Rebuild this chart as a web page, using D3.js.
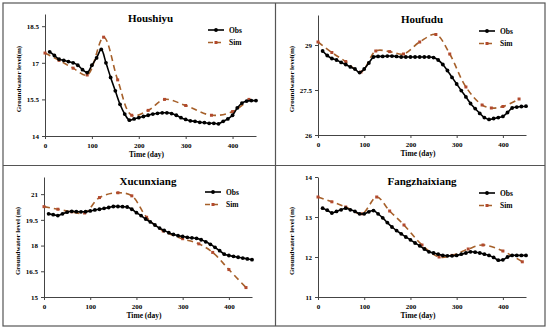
<!DOCTYPE html>
<html>
<head>
<meta charset="utf-8">
<script src="https://cdn.jsdelivr.net/npm/d3@7"></script>
<style>
  body { margin: 0; background: #fff; }
  svg { display: block; font-family: "Liberation Serif", "Times New Roman", serif; font-weight: bold; }
</style>
</head>
<body>
<div id="chart"></div>
<script>
//---------------------------------- Data --------------------
var obsDays = [10, 20, 30, 40, 50, 60, 70, 80, 90, 100, 110, 120, 130, 140, 150, 160, 170, 180, 190, 200,
               210, 220, 230, 240, 250, 260, 270, 280, 290, 300, 310, 320, 330, 340, 350, 360, 370, 380, 390, 400,
               410, 420, 430, 440, 450];
var xTicks = [0, 100, 200, 300, 400];

var houshiyuObs = [17.45, 17.3, 17.15, 17.1, 17.05, 17.0, 16.9, 16.72, 16.6, 16.9, 17.2, 17.55, 17.0, 16.4, 15.85, 15.3, 14.9, 14.65, 14.7, 14.75,
                   14.8, 14.85, 14.9, 14.93, 14.95, 14.95, 14.92, 14.85, 14.75, 14.68, 14.62, 14.6, 14.56, 14.55, 14.52, 14.52, 14.5, 14.6, 14.7, 14.85,
                   15.15, 15.35, 15.43, 15.45, 15.45];
var houshiyuSimDays = [0, 30, 60, 90, 125, 155, 185, 220, 255, 300, 355, 400, 435];
var houshiyuSim = [17.4, 17.1, 16.78, 16.5, 18.05, 16.3, 14.85, 15.05, 15.5, 15.25, 14.85, 15.0, 15.5];
var houshiyuTicks = [14, 15.5, 17, 18.5];

var houfuduObs = [28.8, 28.65, 28.55, 28.5, 28.42, 28.35, 28.27, 28.2, 28.08, 28.2, 28.4, 28.6, 28.62, 28.62, 28.63, 28.63, 28.62, 28.6, 28.6, 28.6,
                  28.6, 28.6, 28.6, 28.6, 28.58, 28.5, 28.35, 28.15, 27.92, 27.7, 27.48, 27.27, 27.05, 26.88, 26.72, 26.58, 26.52, 26.55, 26.58, 26.62,
                  26.75, 26.9, 26.93, 26.95, 26.96];
var houfuduSimDays = [0, 30, 60, 93, 125, 155, 185, 220, 255, 285, 320, 355, 375, 400, 435];
var houfuduSim = [29.1, 28.75, 28.45, 28.1, 28.8, 28.78, 28.7, 29.1, 29.35, 28.7, 27.6, 27.0, 26.9, 26.95, 27.2];
var houfuduTicks = [26, 27.5, 29];

var xucunObs = [19.85, 19.8, 19.75, 19.85, 19.95, 20.0, 19.98, 19.97, 19.98, 20.02, 20.08, 20.12, 20.17, 20.22, 20.28, 20.28, 20.27, 20.25, 20.12, 19.92,
                19.75, 19.55, 19.38, 19.2, 19.02, 18.88, 18.75, 18.65, 18.58, 18.53, 18.48, 18.45, 18.42, 18.34, 18.22, 18.07, 17.9, 17.7, 17.5, 17.42,
                17.37, 17.32, 17.27, 17.22, 17.18];
var xucunSimDays = [0, 30, 60, 88, 120, 160, 190, 222, 258, 300, 335, 365, 400, 437];
var xucunSim = [20.27, 20.12, 19.97, 19.9, 20.8, 21.08, 20.9, 19.65, 18.85, 18.4, 18.1, 17.6, 16.6, 15.55];
var xucunTicks = [15, 16.5, 18, 19.5, 21];

var fangObs = [13.22, 13.17, 13.1, 13.14, 13.18, 13.22, 13.18, 13.14, 13.08, 13.08, 13.13, 13.16, 13.08, 12.98, 12.86, 12.75, 12.66, 12.58, 12.5, 12.43,
               12.35, 12.28, 12.2, 12.13, 12.1, 12.07, 12.04, 12.03, 12.03, 12.04, 12.07, 12.1, 12.13, 12.12, 12.1, 12.07, 12.04, 11.99, 11.92, 11.93,
               12.0, 12.04, 12.04, 12.04, 12.04];
var fangSimDays = [0, 30, 60, 95, 127, 155, 186, 225, 262, 290, 325, 357, 400, 442];
var fangSim = [13.5, 13.38, 13.25, 13.08, 13.5, 13.15, 12.8, 12.3, 12.0, 12.04, 12.2, 12.3, 12.15, 11.88];
var fangTicks = [11, 12, 13, 14];

//---------------------------------- Layout --------------------
var width = 550, height = 333;
var obsColor = "#000", simColor = "#a6602a", simMarker = "#b24a2e";

var panels = [
  {title: "Houshiyu", obs: houshiyuObs, simDays: houshiyuSimDays, sim: houshiyuSim, ticks: houshiyuTicks, ymax: 19,
   ylab: "Groundwater level(m)", left: 45, right: 256, top: 14, bottom: 136, titleY: 22, legX: 208, legY: 30},
  {title: "Houfudu", obs: houfuduObs, simDays: houfuduSimDays, sim: houfuduSim, ticks: houfuduTicks, ymax: 30,
   ylab: "Groundwater level(m)", left: 318, right: 526, top: 15, bottom: 135, titleY: 23, legX: 479, legY: 31},
  {title: "Xucunxiang", obs: xucunObs, simDays: xucunSimDays, sim: xucunSim, ticks: xucunTicks, ymax: 22,
   ylab: "Groundwater level (m)", left: 44, right: 252, top: 177, bottom: 297, titleY: 185, legX: 205, legY: 192},
  {title: "Fangzhaixiang", obs: fangObs, simDays: fangSimDays, sim: fangSim, ticks: fangTicks, ymax: 14,
   ylab: "Groundwater level (m)", left: 318, right: 526, top: 177, bottom: 297, titleY: 185, legX: 479, legY: 193}
];

var svg = d3.select("#chart").append("svg")
    .attr("width", width)
    .attr("height", height);

// ---------- Panel borders ----------
svg.append("rect")
    .attr("x", 3).attr("y", 3)
    .attr("width", 542).attr("height", 323)
    .style("fill", "none").style("stroke", "#555").style("stroke-width", 1.2);
svg.append("line").attr("x1", 275.5).attr("x2", 275.5).attr("y1", 3).attr("y2", 326)
    .style("stroke", "#555").style("stroke-width", 1.2);
svg.append("line").attr("x1", 3).attr("x2", 545).attr("y1", 165.5).attr("y2", 165.5)
    .style("stroke", "#555").style("stroke-width", 1.2);

panels.forEach(function(p) {

  var x_scale = d3.scaleLinear().domain([0, 450]).range([p.left, p.right]);
  var y_scale = d3.scaleLinear().domain([p.ticks[0], p.ymax]).range([p.bottom, p.top]);

  var g = svg.append("g");

  // axes
  var xAxis = d3.axisBottom(x_scale).tickValues(xTicks).tickSize(3).tickSizeOuter(0);
  var yAxis = d3.axisLeft(y_scale).tickValues(p.ticks).tickSize(3).tickSizeOuter(0)
      .tickFormat(function(d) { return d; });

  g.append("g").attr("transform", "translate(0," + p.bottom + ")").call(xAxis)
    .call(function(a) {
      a.select(".domain").style("stroke", "#444");
      a.selectAll(".tick line").style("stroke", "#444");
      a.selectAll("text").style("font-size", "7px").style("font-family", "Liberation Serif").style("font-weight", "bold").attr("dy", "0.9em");
    });
  g.append("g").attr("transform", "translate(" + p.left + ",0)").call(yAxis)
    .call(function(a) {
      a.select(".domain").style("stroke", "#444");
      a.selectAll(".tick line").style("stroke", "#444");
      a.selectAll("text").style("font-size", "7px").style("font-family", "Liberation Serif").style("font-weight", "bold");
    });

  // titles
  g.append("text").attr("x", (p.left + p.right) / 2).attr("y", p.titleY)
    .attr("text-anchor", "middle").style("font-size", "11px").text(p.title);
  g.append("text").attr("x", (p.left + p.right) / 2 - 4).attr("y", p.bottom + 21)
    .attr("text-anchor", "middle").style("font-size", "7.5px").text("Time (day)");
  g.append("text")
    .attr("transform", "translate(" + (p.left - 24) + "," + ((p.top + p.bottom) / 2 + 4) + ") rotate(-90)")
    .attr("text-anchor", "middle").style("font-size", "7px").text(p.ylab);

  // sim (dashed)
  var simData = p.simDays.map(function(d, i) { return {day: d, v: p.sim[i]}; });
  var simLine = d3.line().curve(d3.curveCatmullRom.alpha(0.5))
      .x(function(d) { return x_scale(d.day); })
      .y(function(d) { return y_scale(d.v); });
  g.append("path").datum(simData).attr("d", simLine)
    .style("fill", "none").style("stroke", simColor).style("stroke-width", 1.6)
    .style("stroke-dasharray", "6,4");
  g.selectAll(".simpt").data(simData).enter().append("rect")
    .attr("class", "simpt")
    .attr("x", function(d) { return x_scale(d.day) - 1.5; })
    .attr("y", function(d) { return y_scale(d.v) - 1.5; })
    .attr("width", 3).attr("height", 3)
    .style("fill", simMarker);

  // obs
  var obsData = obsDays.map(function(d, i) { return {day: d, v: p.obs[i]}; });
  var obsLine = d3.line().curve(d3.curveCatmullRom.alpha(0.5))
      .x(function(d) { return x_scale(d.day); })
      .y(function(d) { return y_scale(d.v); });
  g.append("path").datum(obsData).attr("d", obsLine)
    .style("fill", "none").style("stroke", obsColor).style("stroke-width", 1.6);
  g.selectAll(".obspt").data(obsData).enter().append("circle")
    .attr("class", "obspt")
    .attr("cx", function(d) { return x_scale(d.day); })
    .attr("cy", function(d) { return y_scale(d.v); })
    .attr("r", 1.9)
    .style("fill", obsColor);

  // legend
  var leg = g.append("g");
  leg.append("line").attr("x1", p.legX).attr("x2", p.legX + 16).attr("y1", p.legY).attr("y2", p.legY)
    .style("stroke", obsColor).style("stroke-width", 1.6);
  leg.append("circle").attr("cx", p.legX + 8).attr("cy", p.legY).attr("r", 1.9).style("fill", obsColor);
  leg.append("text").attr("x", p.legX + 21).attr("y", p.legY + 2.5).style("font-size", "7.5px").text("Obs");
  leg.append("line").attr("x1", p.legX).attr("x2", p.legX + 16).attr("y1", p.legY + 12.5).attr("y2", p.legY + 12.5)
    .style("stroke", simColor).style("stroke-width", 1.6).style("stroke-dasharray", "5,3");
  leg.append("rect").attr("x", p.legX + 6.5).attr("y", p.legY + 11).attr("width", 3).attr("height", 3).style("fill", simMarker);
  leg.append("text").attr("x", p.legX + 21).attr("y", p.legY + 15).style("font-size", "7.5px").text("Sim");
});
</script>
</body>
</html>
